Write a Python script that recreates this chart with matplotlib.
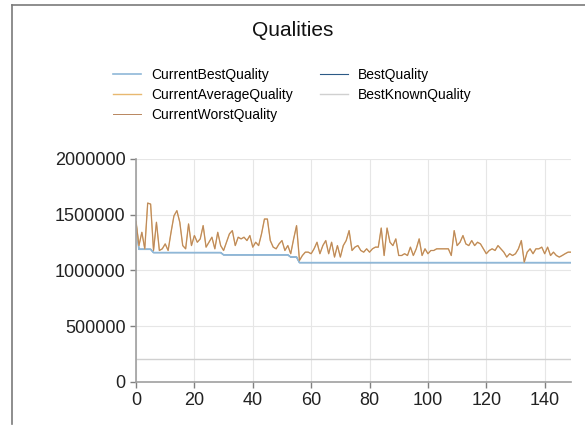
import numpy as np
import matplotlib.pyplot as plt
from matplotlib.lines import Line2D

plt.rcParams['font.family'] = ['Liberation Sans', 'DejaVu Sans']

# worst quality per generation (in thousands)
worst_k = [
    1440, 1223, 1342, 1194, 1604, 1595, 1179, 1432, 1179, 1194,
    1238, 1179, 1342, 1490, 1536, 1432, 1223, 1194, 1417, 1223,
    1313, 1253, 1283, 1402, 1209, 1253, 1298, 1194, 1342, 1223,
    1179, 1253, 1328, 1357, 1223, 1298, 1283, 1298, 1268, 1313,
    1209, 1253, 1223, 1328, 1461, 1461, 1268, 1209, 1194, 1238,
    1268, 1179, 1223, 1150, 1283, 1402, 1090, 1134, 1164, 1164,
    1150, 1194, 1253, 1150, 1223, 1268, 1150, 1253, 1120, 1223,
    1120, 1223, 1268, 1357, 1179, 1209, 1223, 1179, 1164, 1194,
    1164, 1194, 1209, 1209, 1380, 1134, 1380, 1253, 1223, 1283,
    1134, 1134, 1150, 1134, 1209, 1134, 1194, 1283, 1134, 1194,
    1150, 1179, 1179, 1194, 1194, 1194, 1194, 1194, 1134, 1357,
    1223, 1253, 1313, 1238, 1223, 1268, 1223, 1253, 1238, 1194,
    1150, 1179, 1194, 1179, 1223, 1194, 1164, 1120, 1150, 1134,
    1150, 1194, 1268, 1075, 1164, 1194, 1150, 1194, 1194, 1209,
    1150, 1209, 1134, 1164, 1134, 1120, 1134, 1150, 1164, 1164,
]
average_k = worst_k

# best quality per generation (in thousands)
best_k = (
    [1420, 1190, 1190, 1190, 1190, 1190]
    + [1160] * 24
    + [1140] * 23
    + [1120] * 3
    + [1070] * 94
)
current_best_k = best_k
best_known = 205000

gen = np.arange(len(worst_k))
worst = np.array(worst_k) * 1000
average = np.array(average_k) * 1000
best = np.array(best_k) * 1000
current_best = np.array(current_best_k) * 1000

fig = plt.figure(figsize=(5.85, 4.33), dpi=100)
ax = fig.add_axes([0.2325, 0.1178, 0.7435, 0.5152])

ax.plot(gen, current_best, color='#8fb8d8', lw=1.2, zorder=2.2,
        label='CurrentBestQuality')
ax.plot(gen, average, color='#e8b870', lw=1.0, zorder=2.3,
        label='CurrentAverageQuality')
ax.plot(gen, worst, color='#b8865e', lw=0.7, zorder=2.4,
        label='CurrentWorstQuality')
ax.plot(gen, best, color='#2c5a86', lw=0.8, zorder=2.1, label='BestQuality')
ax.plot(gen, np.full(len(gen), best_known), color='#d0d0d0', lw=1.0,
        label='BestKnownQuality')

ax.set_xlim(0, 149)
ax.set_ylim(0, 2000000)
ax.set_xticks(range(0, 141, 20))
ax.set_yticks(range(0, 2000001, 500000))
ax.ticklabel_format(axis='y', style='plain', useOffset=False)
ax.grid(True, color='#e6e6e6', lw=0.8)
ax.set_axisbelow(True)
for s in ['top', 'right']:
    ax.spines[s].set_visible(False)
for s in ['left', 'bottom']:
    ax.spines[s].set_color('#a0a0a0')
    ax.spines[s].set_linewidth(1.2)
ax.tick_params(colors='#808080', labelcolor='#222222', labelsize=13,
               length=4, width=1)

fig.text(0.5, 1 - 31 / 433, 'Qualities', ha='center', va='center',
         fontsize=15, color='#111111')
fig.legend(loc='center', bbox_to_anchor=(0.5, 1 - 95 / 433), ncol=2,
           frameon=False, fontsize=10, handlelength=2.0, handletextpad=0.7,
           columnspacing=2.0, labelspacing=0.45)

# window frame edges
fig.add_artist(Line2D([12 / 585, 12 / 585], [1 - 424 / 433, 1 - 5 / 433],
                      transform=fig.transFigure, color='#7a7a7a', lw=1.2))
fig.add_artist(Line2D([12 / 585, 1], [1 - 5 / 433, 1 - 5 / 433],
                      transform=fig.transFigure, color='#7a7a7a', lw=1.2))

fig.savefig('out.png', dpi=100)
